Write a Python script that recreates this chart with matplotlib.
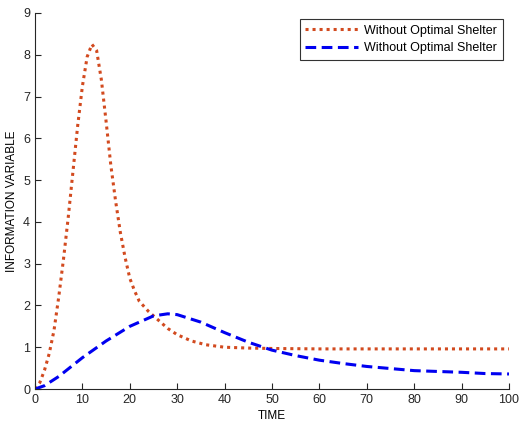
import matplotlib
matplotlib.use("Agg")
import matplotlib.pyplot as plt

# red dotted series
t_red = [0, 1, 2, 3, 4, 5, 6, 7, 8, 9, 10, 11, 12, 13, 14, 15, 16, 17, 18, 19,
         20, 21, 22, 24, 26, 28, 30, 33, 36, 40, 45, 50, 60, 70, 80, 90, 100]
y_red = [0.0, 0.15, 0.45, 0.85, 1.4, 2.2, 3.1, 4.1, 5.2, 6.3, 7.25, 7.95, 8.25, 8.1, 7.4, 6.4, 5.35, 4.5, 3.75, 3.15,
         2.65, 2.35, 2.1, 1.85, 1.65, 1.45, 1.3, 1.15, 1.06, 1.0, 0.98, 0.97, 0.96, 0.96, 0.96, 0.96, 0.96]

# blue dashed series
t_blue = [0, 2, 5, 10, 15, 20, 25, 28, 30, 35, 40, 45, 50, 55, 60, 65, 70, 75, 80, 85, 90, 95, 100]
y_blue = [0.0, 0.08, 0.3, 0.75, 1.15, 1.5, 1.75, 1.8, 1.78, 1.6, 1.35, 1.12, 0.93, 0.8, 0.69, 0.61, 0.54, 0.49, 0.44, 0.42, 0.4, 0.37, 0.36]

labels = ["Without Optimal Shelter", "Without Optimal Shelter"]

plt.rcParams["font.family"] = ["Liberation Sans", "DejaVu Sans"]

fig = plt.figure(figsize=(5.25, 4.32), dpi=100)
ax = fig.add_axes([0.0667, 0.0995, 0.9028, 0.8705])

ax.plot(t_red, y_red, color="#d24a1f", linestyle=(0, (1, 1.3)), linewidth=2.2, label=labels[0])
ax.plot(t_blue, y_blue, color="#0000f0", linestyle=(0, (3.5, 1.8)), linewidth=2.2, label=labels[1])

ax.set_xlim(0, 100)
ax.set_ylim(0, 9)
ax.set_xticks(range(0, 101, 10))
ax.set_yticks(range(0, 10))
ax.tick_params(direction="in", length=4, labelsize=9, colors="#262626")
ax.spines["top"].set_visible(False)
ax.spines["right"].set_visible(False)
for s in ("left", "bottom"):
    ax.spines[s].set_color("#262626")
    ax.spines[s].set_linewidth(0.8)

ax.set_xlabel("TIME", fontsize=8.5, labelpad=3)
ax.set_ylabel("INFORMATION VARIABLE", fontsize=8.5, labelpad=4)

leg = ax.legend(loc="upper right", fontsize=9, frameon=True, fancybox=False,
                edgecolor="black", handlelength=4.2, borderaxespad=0.5,
                labelspacing=0.45, borderpad=0.45, handletextpad=0.5)
leg.get_frame().set_linewidth(0.8)

fig.savefig("out.png", dpi=100)
